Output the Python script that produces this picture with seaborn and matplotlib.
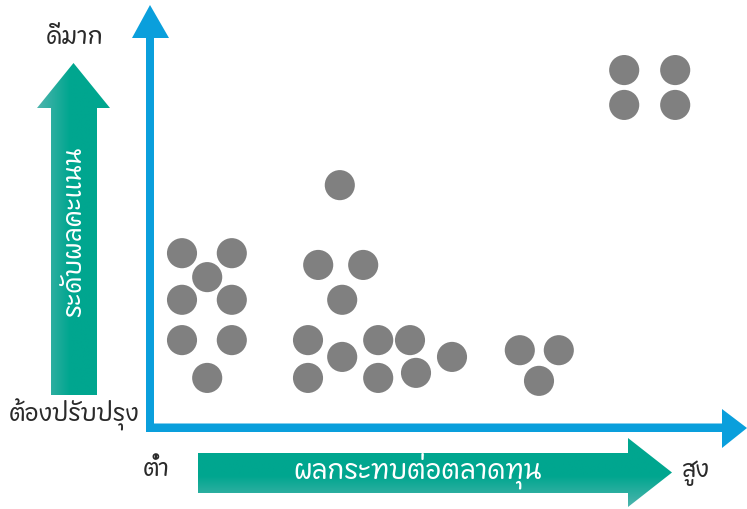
import numpy as np
import pandas as pd
import matplotlib
matplotlib.use("Agg")
import matplotlib.pyplot as plt
from matplotlib import font_manager
from matplotlib.patches import Polygon
import seaborn as sns

# ---------------- data ----------------
# x: impact on capital market (0-100), y: performance score level (0-100)
x_vals = [5.0, 13.3, 9.2, 5.0, 13.3, 5.0, 13.3, 9.2,
          31.3, 27.7, 35.2, 31.7, 26.0, 37.7, 43.0, 31.7, 26.0, 37.7, 44.0, 50.0,
          61.3, 67.8, 64.5,
          78.7, 87.2, 78.7, 87.2]
y_vals = [42.1, 42.1, 36.4, 31.0, 31.0, 21.4, 21.4, 12.4,
          58.3, 39.3, 39.3, 31.0, 21.4, 21.4, 21.4, 17.4, 12.4, 12.4, 13.6, 17.4,
          19.0, 19.0, 11.7,
          85.7, 85.7, 77.4, 77.4]
x_axis_title = "ผลกระทบต่อตลาดทุน"
y_axis_title = "ระดับผลคะแนน"
x_low, x_high = "ต่ำ", "สูง"
y_low, y_high = "ต้องปรับปรุง", "ดีมาก"

df = pd.DataFrame({"impact": x_vals, "score": y_vals})

# ---------------- font with Thai glyphs ----------------
def find_thai_family():
    try:
        from fontTools.ttLib import TTFont
    except Exception:
        return None
    best = None
    for fe in font_manager.fontManager.ttflist:
        try:
            f = TTFont(fe.fname, fontNumber=0, lazy=True)
            cmap = f.getBestCmap()
            if cmap and 0x0E21 in cmap and 0x0E14 in cmap:
                if best is None or "Sans" in fe.name:
                    best = fe.name
        except Exception:
            continue
    return best

sns.set_theme(style="white")
thai = find_thai_family()
fam = [thai, "DejaVu Sans"] if thai else ["DejaVu Sans"]
plt.rcParams["font.family"] = fam

W, H = 747, 509
fig = plt.figure(figsize=(W / 100, H / 100), dpi=100)

# overlay in pixel coordinates for decorations
ov = fig.add_axes([0, 0, 1, 1])
ov.set_xlim(0, W)
ov.set_ylim(H, 0)
ov.axis("off")

blue = "#0a9fdc"
# vertical blue axis arrow
ov.add_patch(Polygon([(146, 432), (154, 432), (154, 38), (169, 38), (150, 5),
                      (132, 38), (146, 38)], closed=True, fc=blue, ec="none"))
# horizontal blue axis arrow
ov.add_patch(Polygon([(146, 432), (722, 432), (722, 448), (747, 428), (722, 409),
                      (722, 423.5), (146, 423.5)], closed=True, fc=blue, ec="none"))

def gradient_arrow(poly, extent, direction):
    c0 = np.array(matplotlib.colors.to_rgb("#4fb5ae"))
    c1 = np.array(matplotlib.colors.to_rgb("#00a68f"))
    n = 200
    t = np.clip(np.linspace(0, 1, n) / 0.45, 0, 1)
    cols = c0[None, :] * (1 - t[:, None]) + c1[None, :] * t[:, None]
    if direction == "h":
        img = np.tile(cols[None, :, :], (2, 1, 1))
    else:
        img = np.tile(cols[:, None, :], (1, 2, 1))
    p = Polygon(poly, closed=True, fc="none", ec="none")
    ov.add_patch(p)
    im = ov.imshow(img, extent=extent, aspect="auto", zorder=1, interpolation="bilinear")
    im.set_clip_path(p)

# vertical green arrow (gradient left -> right)
gradient_arrow([(51, 395), (97, 395), (97, 108), (110, 108), (73.5, 63),
                (37, 108), (51, 108)], extent=(37, 110, 395, 63), direction="h")
# horizontal green arrow (gradient top -> bottom)
gradient_arrow([(198, 453), (628, 453), (628, 438), (672, 472.5), (628, 507),
                (628, 493), (198, 493)], extent=(198, 672, 438, 507), direction="v")
ov.set_xlim(0, W)
ov.set_ylim(H, 0)

txt = dict(fontsize=17, color="#2a2a2a", ha="center", va="center", fontweight="light")
ov.text(75, 37, y_high, **txt)
ov.text(74, 415, y_low, **txt)
ov.text(156, 470, x_low, **txt)
ov.text(696, 472, x_high, **txt)
ov.text(418, 471, x_axis_title, fontsize=19, color="white", ha="center", va="center",
        fontweight="light")
ov.text(74, 232, y_axis_title, fontsize=18, color="white", ha="center", va="center",
        rotation=90, fontweight="light")

# data axes: origin at pixel (152, 430)
ax = fig.add_axes([152 / W, (H - 430) / H, 600 / W, 420 / H])
ax.patch.set_alpha(0)
sns.scatterplot(data=df, x="impact", y="score", ax=ax, s=470, color="#808080",
                edgecolor="none", linewidth=0, legend=False)
ax.set_xlim(0, 100)
ax.set_ylim(0, 100)
ax.axis("off")

fig.savefig("out.png", dpi=100)
